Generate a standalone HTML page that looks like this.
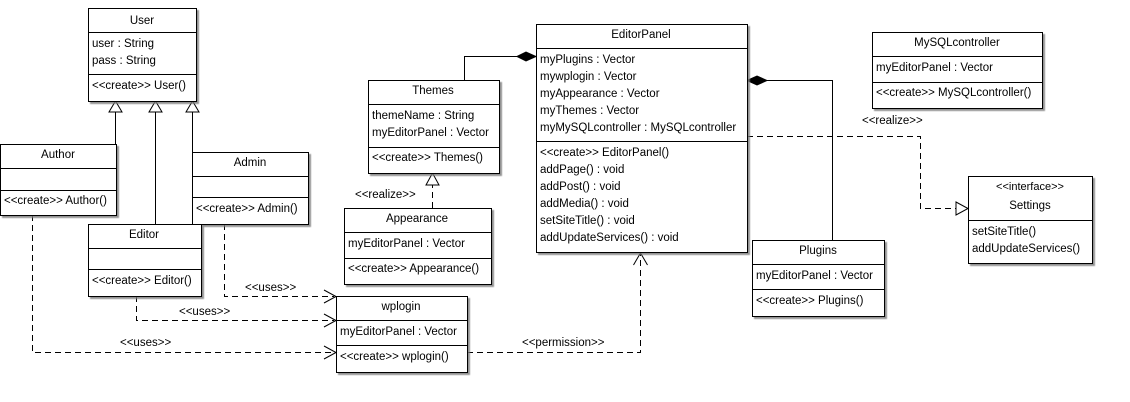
<!DOCTYPE html>
<html><head><meta charset="utf-8"><style>
html,body{margin:0;padding:0;background:#fff;width:1130px;height:402px;overflow:hidden}
text{font-family:"Liberation Sans",sans-serif;font-size:11.5px;fill:#000}
.c{font-size:11.5px}
</style></head><body>
<svg width="1130" height="402" xmlns="http://www.w3.org/2000/svg">
<defs><filter id="s" x="-5%" y="-5%" width="115%" height="115%"><feDropShadow dx="2" dy="2" stdDeviation="0.6" flood-color="#777" flood-opacity="0.8"/></filter></defs>
<g stroke="#000" stroke-width="1" fill="none">
<path d="M115.5 112V144M155.5 112V224M192.5 112V152"/>
<path d="M109 112L115.5 101L122 112Z M149 112L155.5 101L162 112Z M186 112L192.5 101L199 112Z" fill="#fff"/>
<path d="M464.5 80V56.5H518"/>
<path d="M517 56.5L526 52L536 56.5L526 61Z" fill="#000"/>
<path d="M767 80.5H832.5V240"/>
<path d="M747 80.5L757 76L767 80.5L757 85Z" fill="#000"/>
<g stroke-dasharray="6,4">
<path d="M432.5 208V185"/>
<path d="M747 136.5H920.5V208.5H956"/>
<path d="M224.5 224V296.5H334"/>
<path d="M136.5 296V320.5H334"/>
<path d="M32.5 215V352.5H334"/>
<path d="M467 352.5H640.5V254"/>
</g>
<path d="M426 185L432.5 173L439 185Z" fill="#fff"/>
<path d="M956 202L968 208.5L956 215Z" fill="#fff"/>
<path d="M324 290L336 296.5L324 303M324 314L336 320.5L324 327M324 346L336 352.5L324 359"/>
<path d="M633.5 265L640.5 253L647.5 265"/>
</g>
<g fill="#fff" stroke="#000" filter="url(#s)">
<rect x="88.5" y="8.5" width="108" height="93"/>
<rect x="0.5" y="144.5" width="116" height="71"/>
<rect x="192.5" y="152.5" width="116" height="72"/>
<rect x="88.5" y="224.5" width="113" height="72"/>
<rect x="368.5" y="80.5" width="131" height="93"/>
<rect x="344.5" y="208.5" width="147" height="76"/>
<rect x="336.5" y="296.5" width="131" height="76"/>
<rect x="536.5" y="24.5" width="211" height="228"/>
<rect x="752.5" y="240.5" width="132" height="76"/>
<rect x="872.5" y="32.5" width="170" height="76"/>
<rect x="968.5" y="176.5" width="124" height="87"/>
</g>
<g stroke="#000">
<path d="M88 32.5H196M88 74.5H196M0 168.5H116M0 190.5H116M192 176.5H308M192 197.5H308M88 248.5H201M88 269.5H201M368 104.5H499M368 147.5H499M344 232.5H491M344 258.5H491M336 320.5H467M336 345.5H467M536 48.5H747M536 141.5H747M752 264.5H884M752 289.5H884M872 56.5H1042M872 82.5H1042M968 220.5H1092"/>
</g>
<g text-anchor="middle">
<text x="142" y="24">User</text>
<text x="58" y="158">Author</text>
<text x="250" y="166">Admin</text>
<text x="144" y="238">Editor</text>
<text x="433" y="94">Themes</text>
<text x="417" y="222">Appearance</text>
<text x="401" y="310">wplogin</text>
<text x="641" y="38">EditorPanel</text>
<text x="818" y="254">Plugins</text>
<text x="957" y="46">MySQLcontroller</text>
<text x="1030" y="190" style="font-size:11px">&lt;&lt;interface&gt;&gt;</text>
<text x="1030" y="209">Settings</text>
</g>
<text x="92" y="47">user : String</text>
<text x="92" y="64">pass : String</text>
<text x="92" y="89" class="c">&lt;&lt;create&gt;&gt; User()</text>
<text x="4" y="204" class="c">&lt;&lt;create&gt;&gt; Author()</text>
<text x="196" y="212" class="c">&lt;&lt;create&gt;&gt; Admin()</text>
<text x="92" y="284" class="c">&lt;&lt;create&gt;&gt; Editor()</text>
<text x="372" y="119">themeName : String</text>
<text x="372" y="136">myEditorPanel : Vector</text>
<text x="372" y="161" class="c">&lt;&lt;create&gt;&gt; Themes()</text>
<text x="348" y="247">myEditorPanel : Vector</text>
<text x="348" y="272" class="c">&lt;&lt;create&gt;&gt; Appearance()</text>
<text x="340" y="335">myEditorPanel : Vector</text>
<text x="340" y="360" class="c">&lt;&lt;create&gt;&gt; wplogin()</text>
<text x="540" y="63">myPlugins : Vector</text>
<text x="540" y="80">mywplogin : Vector</text>
<text x="540" y="97">myAppearance : Vector</text>
<text x="540" y="114">myThemes : Vector</text>
<text x="540" y="131">myMySQLcontroller : MySQLcontroller</text>
<text x="540" y="156" class="c">&lt;&lt;create&gt;&gt; EditorPanel()</text>
<text x="540" y="173">addPage() : void</text>
<text x="540" y="190">addPost() : void</text>
<text x="540" y="207">addMedia() : void</text>
<text x="540" y="224">setSiteTitle() : void</text>
<text x="540" y="241">addUpdateServices() : void</text>
<text x="756" y="279">myEditorPanel : Vector</text>
<text x="756" y="304" class="c">&lt;&lt;create&gt;&gt; Plugins()</text>
<text x="876" y="71">myEditorPanel : Vector</text>
<text x="876" y="96" class="c">&lt;&lt;create&gt;&gt; MySQLcontroller()</text>
<text x="972" y="235">setSiteTitle()</text>
<text x="972" y="252">addUpdateServices()</text>
<g style="font-size:10.5px">
<text x="355" y="198">&lt;&lt;realize&gt;&gt;</text>
<text x="862" y="124">&lt;&lt;realize&gt;&gt;</text>
<text x="245" y="291">&lt;&lt;uses&gt;&gt;</text>
<text x="179" y="315">&lt;&lt;uses&gt;&gt;</text>
<text x="120" y="346">&lt;&lt;uses&gt;&gt;</text>
<text x="522" y="346">&lt;&lt;permission&gt;&gt;</text>
</g>
</svg>
</body></html>
